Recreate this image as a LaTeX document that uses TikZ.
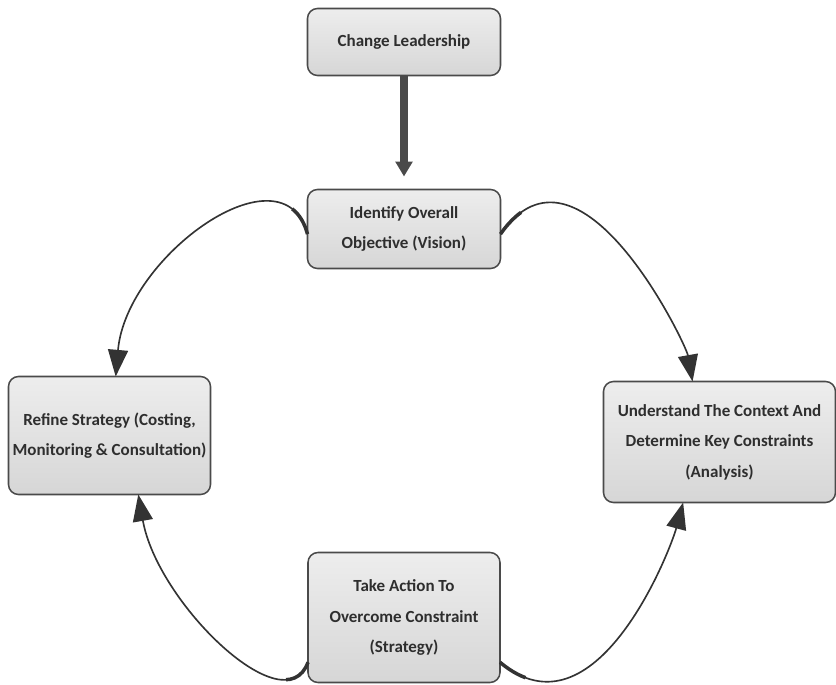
\documentclass[tikz,border=0pt]{standalone}
\usepackage{fontspec}
\setmainfont{Carlito}
\usepackage{xcolor}
\usepackage{tikz}
\usetikzlibrary{positioning}
\usetikzlibrary{arrows.meta}
\definecolor{boxline}{HTML}{4A4A4A}
\definecolor{boxtext}{HTML}{2E2E2E}
\definecolor{curvecol}{HTML}{333333}
\tikzset{
  mybox/.style={
    draw=boxline,
    shape=rectangle,
    line width=1.3pt,
    rounded corners=0.3cm,
    align=center,
    top color=gray!14,
    bottom color=gray!32,
    text=boxtext,
    outer sep=0pt,
    inner sep=2pt,
    font=\bfseries\fontsize{14.5}{26}\selectfont
  },
  mydownarrow/.style={
    draw=boxline,
    line width=6.5pt,
    -{Triangle[length=0.45cm, width=0.5cm]},
    shorten >=0.39cm,
  },
  mycurve/.style={
    draw=curvecol,
    line width=1.4pt,
    -{Triangle[length=0.8cm, width=0.6cm]},
  },
  mycurvestart/.style={
    draw=curvecol,
    line width=3pt,
    dash pattern=on 0.9cm off 40cm,
  },
}

\begin{document}
\begin{tikzpicture}
    \useasboundingbox (0,0) rectangle (25.08,-20.55);

    \node[mybox, minimum width=5.79cm, minimum height=2.01cm] (lead) at (12.12,-1.26) {Change Leadership};
    \node[mybox, minimum width=5.79cm, minimum height=2.37cm] (vision)  [below=3.42cm of lead]                  {Identify Overall\\Objective (Vision)};
    \node[mybox, minimum width=6.06cm, minimum height=3.54cm] (refine)  [below left=3.24cm and 2.91cm of vision]  {Refine Strategy (Costing,\\Monitoring \& Consultation)};
    \node[mybox, minimum width=6.96cm, minimum height=3.63cm] (context) [below right=3.39cm and 3.09cm of vision] {Understand The Context And\\Determine Key Constraints\\(Analysis)};
    \node[mybox, minimum width=5.76cm, minimum height=3.9cm]  (action)  [below=8.52cm of vision]                {Take Action To\\Overcome Constraint\\(Strategy)};

    \draw[mydownarrow] (lead) -- (vision);

    % the cycle: each arc is thicker where it leaves its box
    \draw[mycurvestart] (vision.183) to[out=105, in=85, out looseness=1.0, in looseness=1.3] (refine.84);
    \draw[mycurve]      (vision.183) to[out=105, in=85, out looseness=1.0, in looseness=1.3] (refine.84);

    \draw[mycurvestart] (vision.357) to[out=55, in=100, out looseness=1.45, in looseness=0.4] (context.114);
    \draw[mycurve]      (vision.357) to[out=55, in=100, out looseness=1.45, in looseness=0.4] (context.114);

    \draw[mycurvestart] (action.205) to[out=250, in=280, out looseness=0.725, in looseness=1.18] (refine.296);
    \draw[mycurve]      (action.205) to[out=250, in=280, out looseness=0.725, in looseness=1.18] (refine.296);

    \draw[mycurvestart] (action.335) to[out=320, in=255, out looseness=1.31, in looseness=0.53] (context.239);
    \draw[mycurve]      (action.335) to[out=320, in=255, out looseness=1.31, in looseness=0.53] (context.239);
\end{tikzpicture}
\end{document}
